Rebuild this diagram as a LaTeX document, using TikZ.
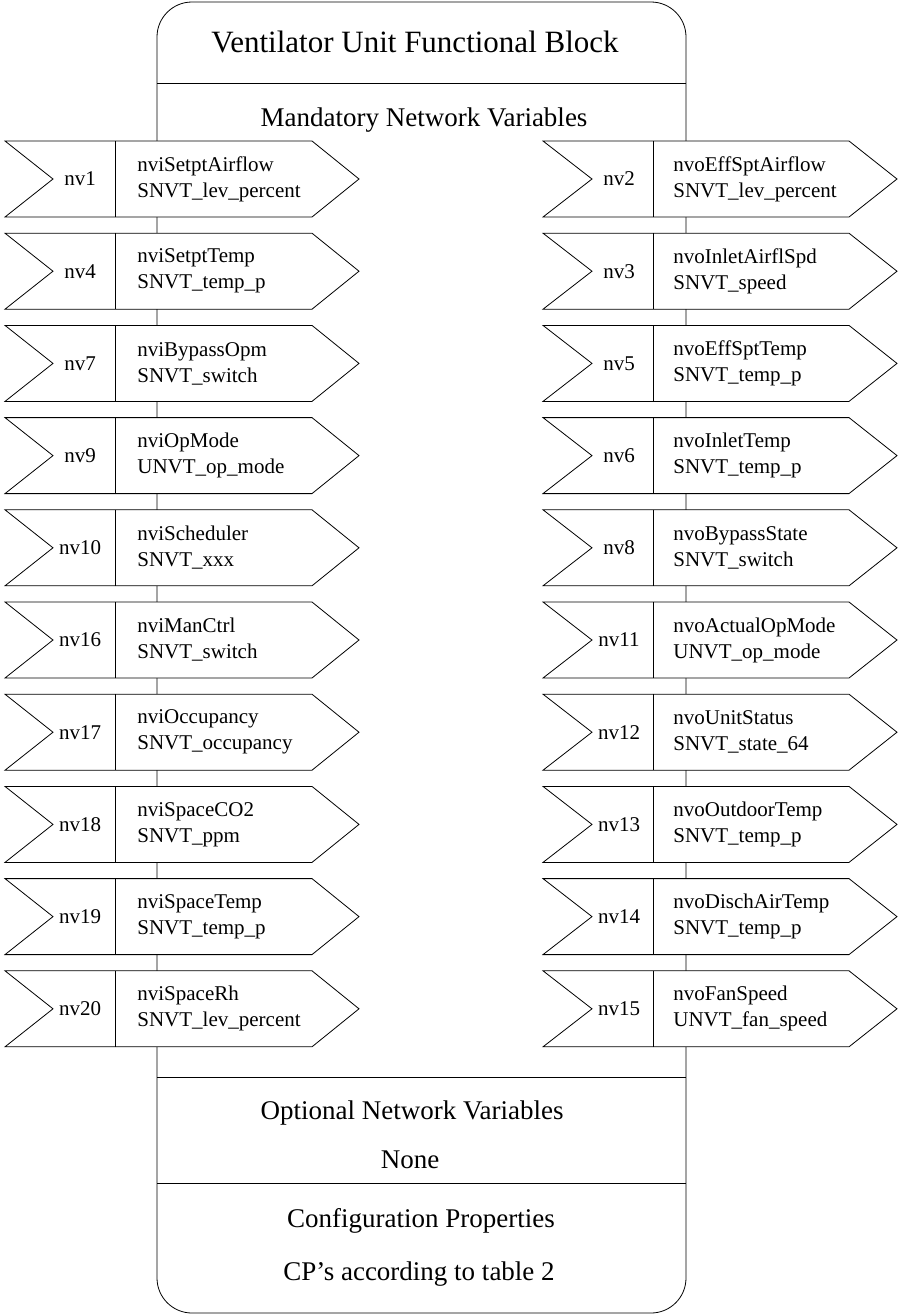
\documentclass[tikz,border=0pt]{standalone}
\usepackage{fontspec}
\setmainfont{Liberation Serif}
\usetikzlibrary{positioning}

\begin{document}
\begin{tikzpicture}[x=1pt,y=-1pt,line width=0.8pt,
	nvarrow/.style={draw, fill=white},
	nvnum/.style={font=\fontsize{21}{25}\selectfont, inner sep=0pt},
	nvtext/.style={font=\fontsize{21}{26}\selectfont, align=left, anchor=west, inner sep=0pt},
	header/.style={font=\fontsize{27}{32}\selectfont, inner sep=0pt}]
	\useasboundingbox (0,0) rectangle (898,1315);
	
	% functional block
	\draw[rounded corners=35pt] (157,2) rectangle (686,1313);
	\draw (157,83) -- (686,83);
	\draw (157,1077) -- (686,1077);
	\draw (157,1183) -- (686,1183);
	\node[font=\fontsize{31}{36}\selectfont, inner sep=0pt] (title) at (415,42) {Ventilator Unit Functional Block};
	\node[header] (mand) at (424,120) {Mandatory Network Variables};
	\node[header] (opt) at (412,1113) {Optional Network Variables};
	\node[header] (none) at (410,1160) {None};
	\node[header] (conf) at (421,1221) {Configuration Properties};
	\node[header] (cps) at (419,1274) {CP's according to table 2};
	
	% inputs
	\foreach \i/\nv/\name/\type in {0/nv1/nviSetptAirflow/SNVT\_lev\_percent,
		1/nv4/nviSetptTemp/SNVT\_temp\_p, 2/nv7/nviBypassOpm/SNVT\_switch,
		3/nv9/nviOpMode/UNVT\_op\_mode, 4/nv10/nviScheduler/SNVT\_xxx,
		5/nv16/nviManCtrl/SNVT\_switch, 6/nv17/nviOccupancy/SNVT\_occupancy,
		7/nv18/nviSpaceCO2/SNVT\_ppm, 8/nv19/nviSpaceTemp/SNVT\_temp\_p,
		9/nv20/nviSpaceRh/SNVT\_lev\_percent}{
		\pgfmathsetmacro\yt{141+92.2*\i}
		\draw[nvarrow] (5,\yt) -- ++(307,0) -- ++(47,38) -- ++(-47,38) -- ++(-307,0) -- ++(48,-38) -- cycle;
		\draw (115,\yt) -- ++(0,76);
		\node[nvnum] (in\i) at (80,\yt+38) {\nv};
		\node[nvtext] (inname\i) at (137,\yt+38) {\name\\\type};
	}
	
	% outputs
	\foreach \i/\nv/\name/\type in {0/nv2/nvoEffSptAirflow/SNVT\_lev\_percent,
		1/nv3/nvoInletAirflSpd/SNVT\_speed, 2/nv5/nvoEffSptTemp/SNVT\_temp\_p,
		3/nv6/nvoInletTemp/SNVT\_temp\_p, 4/nv8/nvoBypassState/SNVT\_switch,
		5/nv11/nvoActualOpMode/UNVT\_op\_mode, 6/nv12/nvoUnitStatus/SNVT\_state\_64,
		7/nv13/nvoOutdoorTemp/SNVT\_temp\_p, 8/nv14/nvoDischAirTemp/SNVT\_temp\_p,
		9/nv15/nvoFanSpeed/UNVT\_fan\_speed}{
		\pgfmathsetmacro\yt{141+92.2*\i}
		\draw[nvarrow] (543,\yt) -- ++(306,0) -- ++(48,38) -- ++(-48,38) -- ++(-306,0) -- ++(49,-38) -- cycle;
		\draw (653,\yt) -- ++(0,76);
		\node[nvnum] (out\i) at (619,\yt+38) {\nv};
		\node[nvtext] (outname\i) at (673,\yt+38) {\name\\\type};
	}
\end{tikzpicture}
\end{document}
